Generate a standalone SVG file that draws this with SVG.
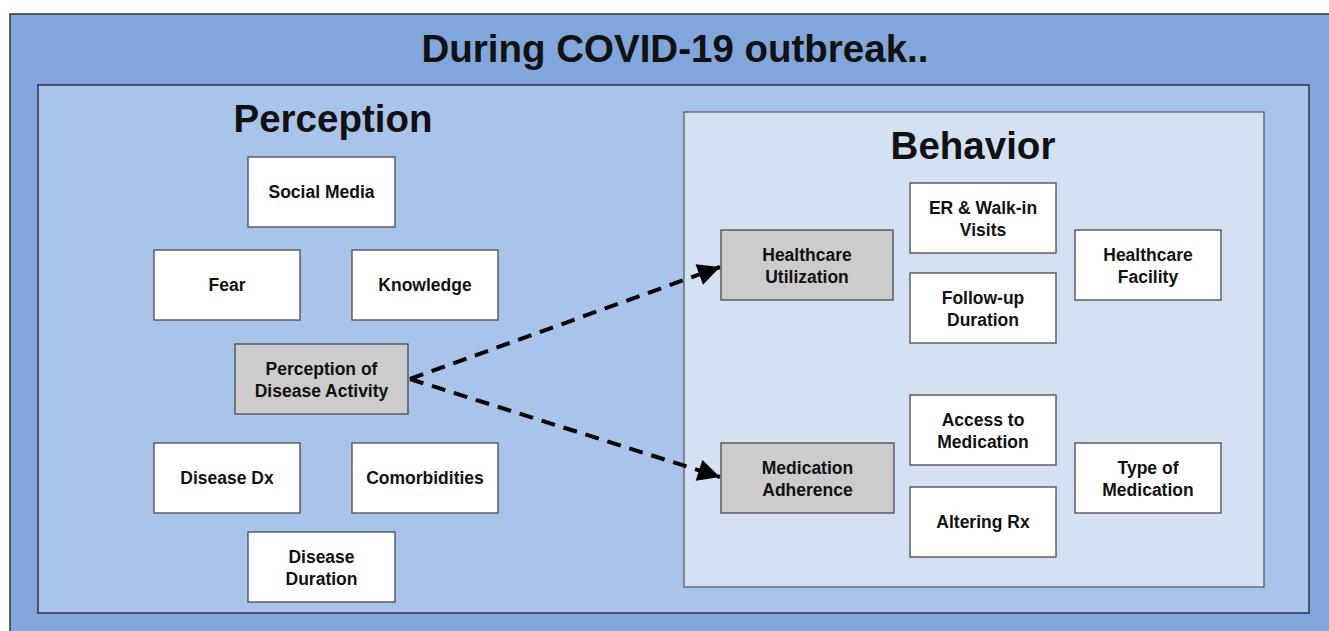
<svg xmlns="http://www.w3.org/2000/svg" width="1329" height="631" viewBox="0 0 1329 631">
<style>
text{font-family:"Liberation Sans",Arial,sans-serif;font-weight:bold;fill:#111;text-anchor:middle}
.h{font-size:38.5px}
.n{font-size:17.5px}
.box{fill:#ffffff;stroke:#4a4a4a;stroke-width:1.3}
.gray{fill:#cccccc;stroke:#4a4a4a;stroke-width:1.3}
.conn{fill:none;stroke:#000;stroke-width:4;stroke-dasharray:14 9}
</style>
<defs>
<marker id="arr" viewBox="0 0 10 10" refX="10" refY="5" markerWidth="6" markerHeight="5.5" markerUnits="strokeWidth" orient="auto">
<path d="M0,0 L10,5 L0,10 z" fill="#000"/>
</marker>
</defs>
<rect width="1329" height="631" fill="#ffffff"/>
<rect x="10" y="14" width="1330" height="630" fill="#80a6dc" stroke="#333" stroke-width="1.5"/>
<text class="h" x="675" y="62">During COVID-19 outbreak..</text>
<rect x="38" y="85" width="1271" height="528" fill="#a9c4ea" stroke="#2f3440" stroke-width="1.5"/>
<text class="h" x="333" y="132">Perception</text>
<rect x="684" y="112" width="580" height="475" fill="#d3e1f3" stroke="#555" stroke-width="1.2"/>
<text class="h" x="973" y="159">Behavior</text>

<g id="connectors">
<path class="conn" d="M410,379 L720,267" marker-end="url(#arr)"/>
<path class="conn" d="M410,379 L720,477" marker-end="url(#arr)"/>
</g>

<g id="social-media"><rect class="box" x="248" y="157" width="147" height="70"/><text class="n" x="321.5" y="198">Social Media</text></g>
<g id="fear"><rect class="box" x="154" y="250" width="146" height="70"/><text class="n" x="227" y="291">Fear</text></g>
<g id="knowledge"><rect class="box" x="352" y="250" width="146" height="70"/><text class="n" x="425" y="291">Knowledge</text></g>
<g id="perception-activity"><rect class="gray" x="235" y="344" width="173" height="70"/><text class="n" x="321.5" y="375">Perception of</text><text class="n" x="321.5" y="397">Disease Activity</text></g>
<g id="disease-dx"><rect class="box" x="154" y="443" width="146" height="70"/><text class="n" x="227" y="484">Disease Dx</text></g>
<g id="comorbidities"><rect class="box" x="352" y="443" width="146" height="70"/><text class="n" x="425" y="484">Comorbidities</text></g>
<g id="disease-duration"><rect class="box" x="248" y="532" width="147" height="70"/><text class="n" x="321.5" y="563">Disease</text><text class="n" x="321.5" y="585">Duration</text></g>

<g id="healthcare-utilization"><rect class="gray" x="721" y="230" width="172" height="70"/><text class="n" x="807" y="261">Healthcare</text><text class="n" x="807" y="283">Utilization</text></g>
<g id="er-visits"><rect class="box" x="910" y="183" width="146" height="70"/><text class="n" x="983" y="214">ER &amp; Walk-in</text><text class="n" x="983" y="236">Visits</text></g>
<g id="follow-up"><rect class="box" x="910" y="273" width="146" height="70"/><text class="n" x="983" y="304">Follow-up</text><text class="n" x="983" y="326">Duration</text></g>
<g id="healthcare-facility"><rect class="box" x="1075" y="230" width="146" height="70"/><text class="n" x="1148" y="261">Healthcare</text><text class="n" x="1148" y="283">Facility</text></g>
<g id="medication-adherence"><rect class="gray" x="721" y="443" width="173" height="70"/><text class="n" x="807.5" y="474">Medication</text><text class="n" x="807.5" y="496">Adherence</text></g>
<g id="access-medication"><rect class="box" x="910" y="395" width="146" height="70"/><text class="n" x="983" y="426">Access to</text><text class="n" x="983" y="448">Medication</text></g>
<g id="altering-rx"><rect class="box" x="910" y="487" width="146" height="70"/><text class="n" x="983" y="528">Altering Rx</text></g>
<g id="type-medication"><rect class="box" x="1075" y="443" width="146" height="70"/><text class="n" x="1148" y="474">Type of</text><text class="n" x="1148" y="496">Medication</text></g>
</svg>
